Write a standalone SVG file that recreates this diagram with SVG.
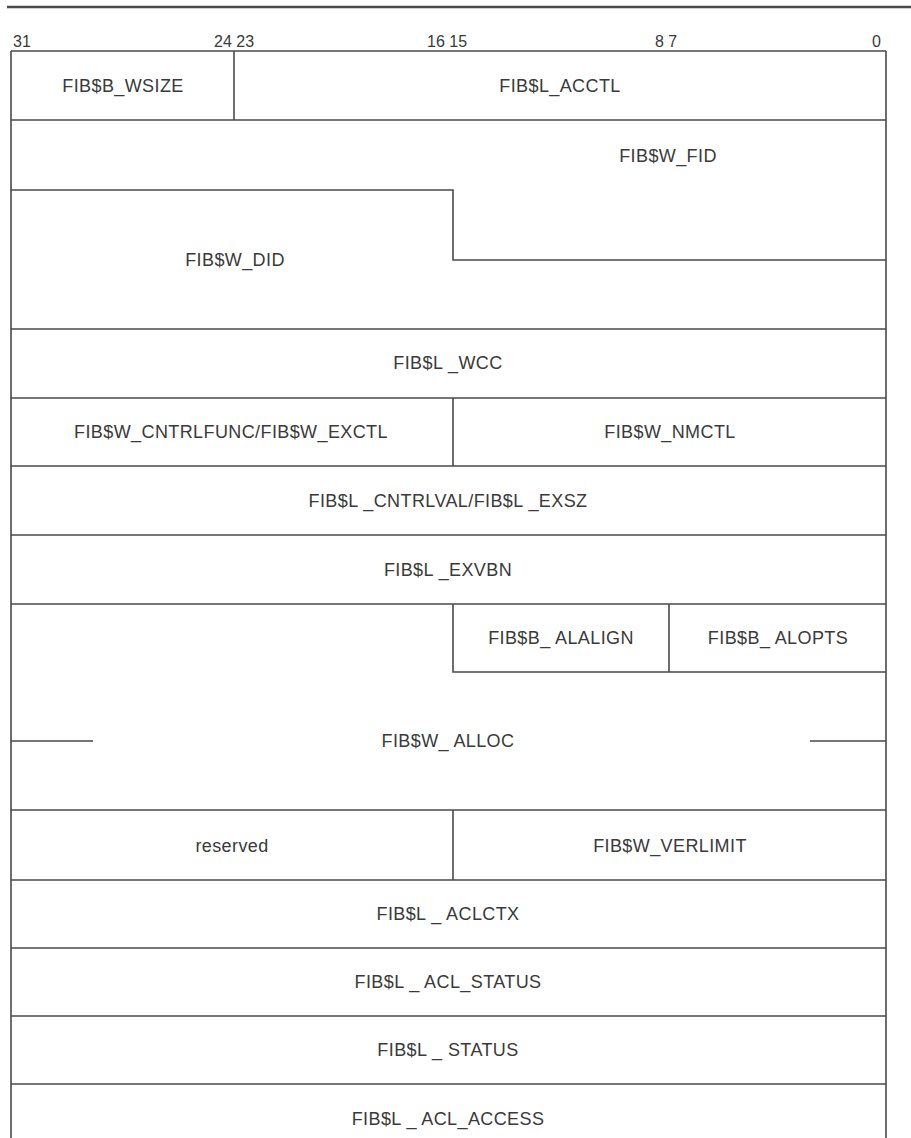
<svg xmlns="http://www.w3.org/2000/svg" width="911" height="1138" viewBox="0 0 911 1138">
<style>
.t{font-family:"Liberation Sans",Arial,sans-serif;font-size:18px;fill:#3a3a3a;text-anchor:middle;letter-spacing:0.4px}
.h{font-family:"Liberation Sans",Arial,sans-serif;font-size:16px;fill:#3a3a3a}
.l{stroke:#4a4a4a;stroke-width:1.6;fill:none}
</style>
<rect width="911" height="1138" fill="#ffffff"/>
<line x1="7" y1="7" x2="911" y2="7" stroke="#4a4a4a" stroke-width="2.6"/>
<g id="header">
<text class="h" x="13" y="47">31</text>
<text class="h" x="214" y="47">24 23</text>
<text class="h" x="427" y="47">16 15</text>
<text class="h" x="655" y="47">8 7</text>
<text class="h" x="872" y="47">0</text>
</g>
<g id="frame">
<path class="l" d="M11 51 H886 M11 51 V1138 M886 51 V1138"/>
</g>
<g id="connectors">
<path class="l" d="M11 120 H886"/>
<path class="l" d="M234 51 V120"/>
<path class="l" d="M11 190 H453 V260 H886"/>
<path class="l" d="M11 329 H886"/>
<path class="l" d="M11 398 H886"/>
<path class="l" d="M453 398 V466"/>
<path class="l" d="M11 466 H886"/>
<path class="l" d="M11 535 H886"/>
<path class="l" d="M11 604 H886"/>
<path class="l" d="M453 604 V672 H886 M669 604 V672"/>
<path class="l" d="M11 741 H93 M810 741 H886"/>
<path class="l" d="M11 810 H886"/>
<path class="l" d="M453 810 V880"/>
<path class="l" d="M11 880 H886"/>
<path class="l" d="M11 948 H886"/>
<path class="l" d="M11 1016 H886"/>
<path class="l" d="M11 1084 H886"/>
</g>
<g id="n-wsize"><text class="t" x="123" y="92">FIB$B_WSIZE</text></g>
<g id="n-acctl"><text class="t" x="560" y="92">FIB$L_ACCTL</text></g>
<g id="n-fid"><text class="t" x="668" y="162">FIB$W_FID</text></g>
<g id="n-did"><text class="t" x="235" y="266">FIB$W_DID</text></g>
<g id="n-wcc"><text class="t" x="448" y="369">FIB$L _WCC</text></g>
<g id="n-cntrlfunc"><text class="t" x="231" y="438">FIB$W_CNTRLFUNC/FIB$W_EXCTL</text></g>
<g id="n-nmctl"><text class="t" x="670" y="438">FIB$W_NMCTL</text></g>
<g id="n-cntrlval"><text class="t" x="448" y="507">FIB$L _CNTRLVAL/FIB$L _EXSZ</text></g>
<g id="n-exvbn"><text class="t" x="448" y="576">FIB$L _EXVBN</text></g>
<g id="n-alalign"><text class="t" x="561" y="644">FIB$B_ ALALIGN</text></g>
<g id="n-alopts"><text class="t" x="778" y="644">FIB$B_ ALOPTS</text></g>
<g id="n-alloc"><text class="t" x="448" y="747">FIB$W_ ALLOC</text></g>
<g id="n-reserved"><text class="t" x="232" y="852">reserved</text></g>
<g id="n-verlimit"><text class="t" x="670" y="852">FIB$W_VERLIMIT</text></g>
<g id="n-aclctx"><text class="t" x="448" y="920">FIB$L _ ACLCTX</text></g>
<g id="n-aclstatus"><text class="t" x="448" y="988">FIB$L _ ACL_STATUS</text></g>
<g id="n-status"><text class="t" x="448" y="1056">FIB$L _ STATUS</text></g>
<g id="n-aclaccess"><text class="t" x="448" y="1125">FIB$L _ ACL_ACCESS</text></g>
</svg>
